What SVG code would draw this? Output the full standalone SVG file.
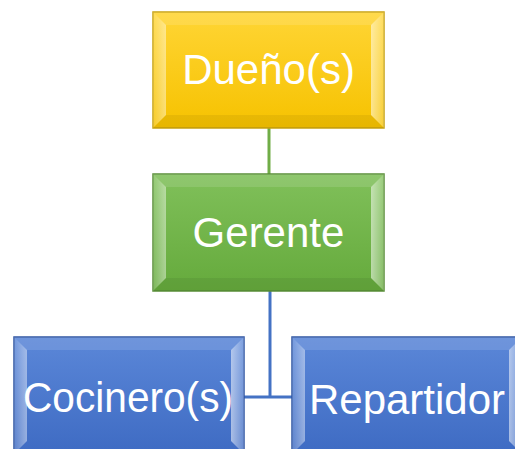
<svg xmlns="http://www.w3.org/2000/svg" width="515" height="449" viewBox="0 0 515 449">
<defs>
<linearGradient id="gy" x1="0" y1="0" x2="0" y2="1"><stop offset="0" stop-color="#FFD535"/><stop offset="1" stop-color="#F6C200"/></linearGradient>
<linearGradient id="gg" x1="0" y1="0" x2="0" y2="1"><stop offset="0" stop-color="#80C05A"/><stop offset="1" stop-color="#65AA3C"/></linearGradient>
<linearGradient id="gb" x1="0" y1="0" x2="0" y2="1"><stop offset="0" stop-color="#5B87D8"/><stop offset="1" stop-color="#3E6BC3"/></linearGradient>
<linearGradient id="hl" x1="0" y1="0" x2="1" y2="0"><stop offset="0" stop-color="#fff" stop-opacity="0.15"/><stop offset="1" stop-color="#fff" stop-opacity="0.45"/></linearGradient>
<linearGradient id="hr" x1="0" y1="0" x2="1" y2="0"><stop offset="0" stop-color="#fff" stop-opacity="0.55"/><stop offset="1" stop-color="#fff" stop-opacity="0.2"/></linearGradient>
</defs>
<style>
.t{fill:#fff;font-family:"Liberation Sans",Arial,sans-serif;font-size:42px;text-anchor:middle}
.bt{fill:#fff;fill-opacity:0.12}
.bb{fill:#000;fill-opacity:0.06}
.bl{fill:url(#hl)}
.br{fill:url(#hr)}
</style>
<g id="connectors" fill="none">
<line x1="269" y1="128" x2="269" y2="174" stroke="#70AD47" stroke-width="3"/>
<polyline points="270,291 270,397" stroke="#4472C4" stroke-width="3"/>
<line x1="244" y1="397" x2="292" y2="397" stroke="#4472C4" stroke-width="3"/>
</g>
<g id="duenos">
<rect x="153" y="12" width="231" height="116" fill="url(#gy)" stroke="#C8A210" stroke-width="1.5"/>
<polygon class="bt" points="153,12 384,12 371,25 166,25"/>
<polygon class="bl" points="153,12 166,25 166,115 153,128"/>
<polygon class="br" points="384,12 371,25 371,115 384,128"/>
<polygon class="bb" points="153,128 166,115 371,115 384,128"/>
<text class="t" x="268.5" y="84">Dueño(s)</text>
</g>
<g id="gerente">
<rect x="153" y="174" width="231" height="117" fill="url(#gg)" stroke="#5A8E38" stroke-width="1.5"/>
<polygon class="bt" points="153,174 384,174 371,187 166,187"/>
<polygon class="bl" points="153,174 166,187 166,278 153,291"/>
<polygon class="br" points="384,174 371,187 371,278 384,291"/>
<polygon class="bb" points="153,291 166,278 371,278 384,291"/>
<text class="t" x="268.5" y="247">Gerente</text>
</g>
<g id="cocineros">
<rect x="14" y="337" width="230" height="117" fill="url(#gb)" stroke="#2F55A3" stroke-width="1.5"/>
<polygon class="bt" points="14,337 244,337 231,350 27,350"/>
<polygon class="bl" points="14,337 27,350 27,441 14,454"/>
<polygon class="br" points="244,337 231,350 231,441 244,454"/>
<text class="t" x="128" y="412" textLength="210" lengthAdjust="spacingAndGlyphs">Cocinero(s)</text>
</g>
<g id="repartidor">
<rect x="292" y="337" width="230" height="117" fill="url(#gb)" stroke="#2F55A3" stroke-width="1.5"/>
<polygon class="bt" points="292,337 522,337 509,350 305,350"/>
<polygon class="bl" points="292,337 305,350 305,441 292,454"/>
<polygon class="br" points="522,337 509,350 509,441 522,454"/>
<text class="t" x="407" y="414">Repartidor</text>
</g>
</svg>
